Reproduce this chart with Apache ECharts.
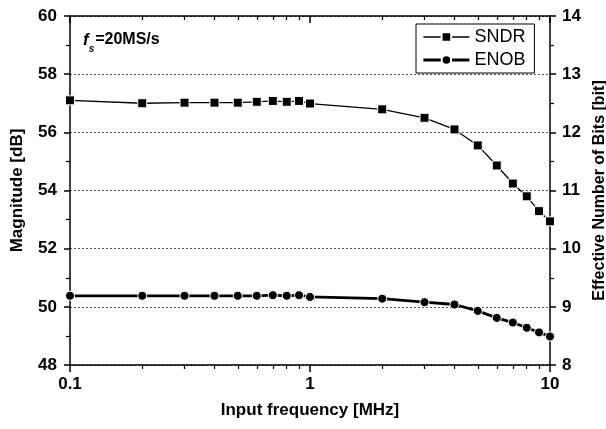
<!DOCTYPE html>
<html>
<head>
<meta charset="utf-8">
<script src="https://cdn.jsdelivr.net/npm/echarts@6/dist/echarts.min.js"></script>
<style>
  html, body { margin: 0; padding: 0; background: #fff; }
  #chart { width: 606px; height: 429px; }
</style>
</head>
<body>
<div id="chart"></div>
<script>
// input frequency [MHz]
var freqs = [0.1, 0.2, 0.3, 0.4, 0.5, 0.6, 0.7, 0.8, 0.9, 1, 2, 3, 4, 5, 6, 7, 8, 9, 10];
// SNDR [dB]
var sndr = [57.1, 57.0, 57.02, 57.02, 57.02, 57.05, 57.08, 57.05, 57.08, 56.99, 56.79, 56.5, 56.1, 55.55, 54.86, 54.24, 53.8, 53.29, 52.94];
// ENOB [bit]
var enob = [9.19, 9.19, 9.19, 9.19, 9.19, 9.19, 9.2, 9.19, 9.2, 9.17, 9.14, 9.08, 9.04, 8.93, 8.81, 8.73, 8.64, 8.56, 8.49];
// tick positions on the log axis
var majorTicks = [0.1, 1, 10];
var minorTicks = [0.2, 0.3, 0.4, 0.5, 0.6, 0.7, 0.8, 0.9, 2, 3, 4, 5, 6, 7, 8, 9];

var chart = echarts.init(document.getElementById('chart'));
var FONT = '"Liberation Sans", Arial, sans-serif';

var sndrData = [], enobData = [];
for (var i = 0; i < freqs.length; i++) {
  sndrData.push([freqs[i], sndr[i]]);
  enobData.push([freqs[i], enob[i]]);
}

var axisLine = { show: true, lineStyle: { color: '#000', width: 1.5 } };

var option = {
  animation: false,
  backgroundColor: '#fff',
  title: {
    left: 78, top: 27,
    text: '{f|f}{s|s}{t|=20MS/s}',
    textStyle: {
      rich: {
        f: { fontFamily: FONT, fontSize: 17, fontWeight: 'bold', fontStyle: 'italic', color: '#000', verticalAlign: 'top' },
        s: { fontFamily: FONT, fontSize: 10, fontWeight: 'bold', fontStyle: 'italic', color: '#000', verticalAlign: 'bottom', padding: [12, 1, 0, 0] },
        t: { fontFamily: FONT, fontSize: 16, fontWeight: 'bold', color: '#000', verticalAlign: 'top' }
      }
    }
  },
  legend: {
    left: 416, top: 24,
    orient: 'vertical',
    itemWidth: 46, itemHeight: 12, itemGap: 5,
    padding: [4, 9, 4, 6],
    borderColor: '#000', borderWidth: 1,
    textStyle: { fontFamily: FONT, fontSize: 18, color: '#000' },
    data: [
      { name: 'SNDR', lineStyle: { width: 1.3 } },
      { name: 'ENOB', lineStyle: { width: 2.8 } }
    ]
  },
  grid: { left: 70, right: 56, top: 16, bottom: 64, outerBoundsMode: 'none' },
  xAxis: [{
    type: 'log', logBase: 10, min: 0.1, max: 10,
    position: 'bottom',
    name: 'Input frequency [MHz]', nameLocation: 'middle', nameGap: 37,
    nameTextStyle: { fontFamily: FONT, fontSize: 17, fontWeight: 'bold', color: '#000' },
    axisLine: axisLine,
    axisTick: { show: true, inside: false, length: 7, customValues: majorTicks, lineStyle: { color: '#000', width: 1.5 } },
    axisLabel: { fontFamily: FONT, fontSize: 17, fontWeight: 'bold', color: '#000', margin: 11, customValues: majorTicks,
      formatter: function (v) { return String(Math.round(v * 10) / 10); } },
    splitLine: { show: false }
  }, {
    type: 'log', logBase: 10, min: 0.1, max: 10,
    position: 'bottom',
    axisLine: { show: false },
    axisTick: { show: true, inside: false, length: 4, customValues: minorTicks, lineStyle: { color: '#000', width: 1.2 } },
    axisLabel: { show: false },
    splitLine: { show: false }
  }, {
    type: 'log', logBase: 10, min: 0.1, max: 10,
    position: 'top',
    axisLine: axisLine,
    axisTick: { show: true, inside: true, length: 7, customValues: majorTicks, lineStyle: { color: '#000', width: 1.5 } },
    axisLabel: { show: false },
    splitLine: { show: false }
  }, {
    type: 'log', logBase: 10, min: 0.1, max: 10,
    position: 'top',
    axisLine: { show: false },
    axisTick: { show: true, inside: true, length: 4, customValues: minorTicks, lineStyle: { color: '#000', width: 1.2 } },
    axisLabel: { show: false },
    splitLine: { show: false }
  }],
  yAxis: [{
    type: 'value', min: 48, max: 60, interval: 2,
    position: 'left',
    name: 'Magnitude [dB]', nameLocation: 'middle', nameGap: 44,
    nameTextStyle: { fontFamily: FONT, fontSize: 17, fontWeight: 'bold', color: '#000' },
    axisLine: axisLine,
    axisTick: { show: true, inside: false, length: 6, lineStyle: { color: '#000', width: 1.5 } },
    minorTick: { show: true, splitNumber: 2, length: 4, lineStyle: { color: '#000', width: 1.2 } },
    axisLabel: { fontFamily: FONT, fontSize: 17, fontWeight: 'bold', color: '#000', margin: 13 },
    splitLine: { show: true, lineStyle: { color: '#555', width: 1, type: [2, 2] } }
  }, {
    type: 'value', min: 8, max: 14, interval: 1,
    position: 'right',
    name: 'Effective Number of Bits [bit]', nameLocation: 'middle', nameGap: 40, nameRotate: 90,
    nameTextStyle: { fontFamily: FONT, fontSize: 16, fontWeight: 'bold', color: '#000' },
    axisLine: axisLine,
    axisTick: { show: true, inside: false, length: 6, lineStyle: { color: '#000', width: 1.5 } },
    minorTick: { show: true, splitNumber: 2, length: 4, lineStyle: { color: '#000', width: 1.2 } },
    axisLabel: { fontFamily: FONT, fontSize: 17, fontWeight: 'bold', color: '#000', margin: 12 },
    splitLine: { show: false }
  }],
  series: [{
    name: 'SNDR',
    type: 'line',
    xAxisIndex: 0, yAxisIndex: 0,
    data: sndrData,
    symbol: 'rect', symbolSize: 9,
    lineStyle: { color: '#000', width: 1.3 },
    itemStyle: { color: '#000', borderColor: '#fff', borderWidth: 1 }
  }, {
    name: 'ENOB',
    type: 'line',
    xAxisIndex: 0, yAxisIndex: 1,
    data: enobData,
    symbol: 'circle', symbolSize: 9,
    lineStyle: { color: '#000', width: 2.8 },
    itemStyle: { color: '#000', borderColor: '#fff', borderWidth: 1 }
  }]
};

chart.setOption(option);
</script>
</body>
</html>
